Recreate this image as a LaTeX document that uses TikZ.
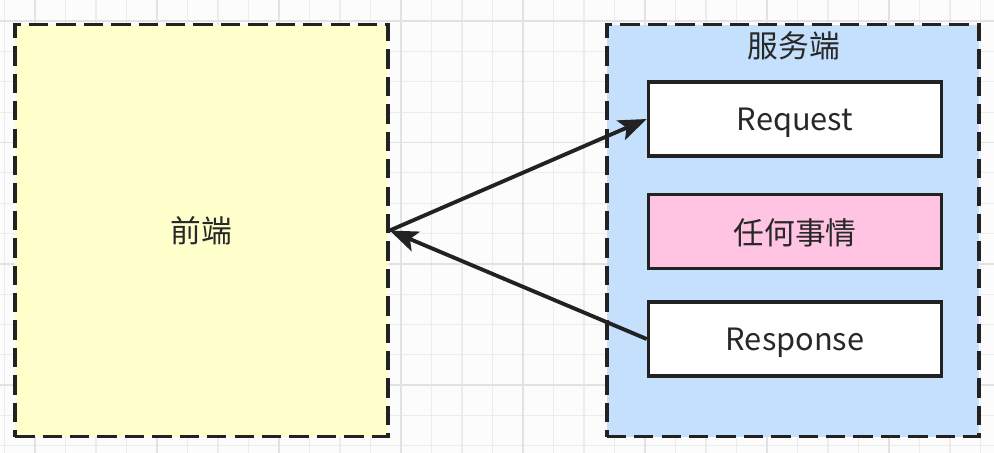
\documentclass[tikz,border=0pt]{standalone}
\usepackage{fontspec}
\setmainfont{Noto Sans CJK SC}
\usetikzlibrary{
    arrows.meta,
    positioning,
    backgrounds
}
\definecolor{ink}{RGB}{34,34,34}
\definecolor{textink}{RGB}{40,40,40}
\definecolor{gridminor}{RGB}{236,236,236}
\definecolor{gridmajor}{RGB}{226,226,226}
\definecolor{clientfill}{RGB}{255,255,204}
\definecolor{serverfill}{RGB}{196,224,253}
\definecolor{stepfill}{RGB}{255,255,255}
\definecolor{workfill}{RGB}{255,196,226}
\tikzset{
    gridline/.style={draw=gridminor, line width=0.6pt},
    gridbold/.style={draw=gridmajor, line width=0.9pt},
    zone/.style={
        rectangle,
        draw=ink,
        line width=2.2pt,
        dash pattern=on 11pt off 4.6pt,
        minimum width=7.45cm,
        minimum height=8.24cm,
        inner sep=0pt,
        font=\fontsize{17.5}{21}\selectfont,
        text=textink
    },
    stepbox/.style={
        rectangle,
        draw=ink,
        line width=2pt,
        fill=stepfill,
        minimum width=5.86cm,
        minimum height=1.48cm,
        inner sep=0pt,
        text depth=0pt,
        font=\fontsize{17.5}{21}\selectfont,
        text=textink
    },
    zonetitle/.style={
        font=\fontsize{17.5}{21}\selectfont,
        text=textink,
        inner sep=0pt
    },
    flow/.style={
        -{Stealth[length=16pt, width=12pt, inset=3.5pt]},
        draw=ink,
        line width=2.2pt
    }
}

\begin{document}
\begin{tikzpicture}[
    show background rectangle,
    background rectangle/.style={fill=white!99!black}
]
\useasboundingbox (0,0) rectangle (19.88,-9.06);

% Background grid
\foreach \gx in {0,...,32} {
    \draw[gridline] ({0.09+0.61*\gx},0) -- ++(0,-9.06);
}
\foreach \gy in {0,...,14} {
    \draw[gridline] (0,{-0.42-0.607*\gy}) -- ++(19.88,0);
}
\foreach \gx in {0,...,8} {
    \draw[gridbold] ({0.70+2.44*\gx},0) -- ++(0,-9.06);
}
\foreach \gy in {0,...,3} {
    \draw[gridbold] (0,{-0.42-2.428*\gy}) -- ++(19.88,0);
}

% Client side
\node[zone, fill=clientfill] (front) at (4.03,-4.61) {前端};

% Server side
\node[zone, fill=serverfill] (server) at (15.86,-4.61) {};
\node[zonetitle] (servertitle) at (15.88,-0.92) {服务端};

\node[stepbox] (req) at (15.90,-2.38) {Request};
\node[stepbox, fill=workfill, below=0.7cm of req] (work) {任何事情};
\node[stepbox, below=0.6cm of work] (resp) {Response};

% Round trip
\draw[flow] (front.east) -- (req.west);
\draw[flow] (resp.west) -- (front.east);

\end{tikzpicture}
\end{document}
